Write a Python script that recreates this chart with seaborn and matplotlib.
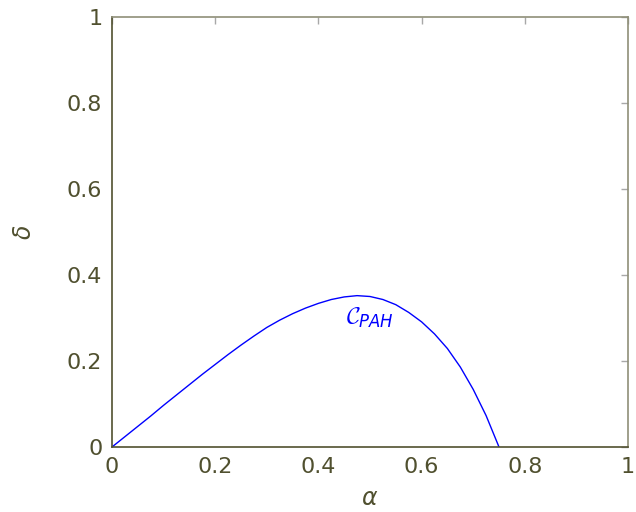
import matplotlib
matplotlib.use("Agg")
import matplotlib.pyplot as plt
import seaborn as sns
import pandas as pd

alpha = [0.0, 0.025, 0.05, 0.075, 0.1, 0.125, 0.15, 0.175, 0.2, 0.225, 0.25, 0.275,
         0.3, 0.325, 0.35, 0.375, 0.4, 0.425, 0.45, 0.475, 0.5, 0.525, 0.55, 0.575,
         0.6, 0.625, 0.65, 0.675, 0.7, 0.725, 0.75]
delta = [0.0, 0.024, 0.048, 0.072, 0.097, 0.121, 0.145, 0.169, 0.192, 0.215, 0.237, 0.258,
         0.278, 0.295, 0.310, 0.323, 0.334, 0.343, 0.349, 0.352, 0.350, 0.343, 0.331, 0.313,
         0.291, 0.263, 0.229, 0.186, 0.134, 0.073, 0.0]
ticks = [0, 0.2, 0.4, 0.6, 0.8, 1]
tick_labels = ["0", "0.2", "0.4", "0.6", "0.8", "1"]
curve_label = r"$\mathcal{C}_{PAH}$"

sns.set_theme(style="white")
plt.rcParams["font.family"] = ["DejaVu Sans"]
plt.rcParams["mathtext.fontset"] = "custom"
plt.rcParams["mathtext.it"] = "DejaVu Sans:italic"
plt.rcParams["mathtext.rm"] = "DejaVu Sans"
plt.rcParams["mathtext.cal"] = "cmsy10"

text_c = "#50502f"
fig = plt.figure(figsize=(6.36, 5.12), dpi=100)
ax = fig.add_axes([112/636, 1-447/512, 516/636, 430/512])

df = pd.DataFrame({"alpha": alpha, "delta": delta})
sns.lineplot(data=df, x="alpha", y="delta", ax=ax, color="#0000ff", linewidth=1.0)

ax.set_xlim(0, 1)
ax.set_ylim(0, 1)
ax.set_xticks(ticks)
ax.set_xticklabels(tick_labels)
ax.set_yticks(ticks)
ax.set_yticklabels(tick_labels)
ax.tick_params(direction="in", length=5, width=1, color="#a8a8a8",
               labelcolor=text_c, labelsize=16, top=True, right=True, pad=7)
for s in ["bottom", "left"]:
    ax.spines[s].set_color(text_c)
    ax.spines[s].set_linewidth(1.2)
for s in ["top", "right"]:
    ax.spines[s].set_color("#8f8f78")
    ax.spines[s].set_linewidth(1.2)

ax.set_xlabel(r"$\alpha$", fontsize=17, color=text_c, labelpad=7)
ax.set_ylabel(r"$\delta$", fontsize=17, color=text_c, labelpad=22)
ax.text(0.5, 0.30, curve_label, color="#0000ff", fontsize=17, ha="center", va="center")

fig.savefig("out.png", dpi=100)
